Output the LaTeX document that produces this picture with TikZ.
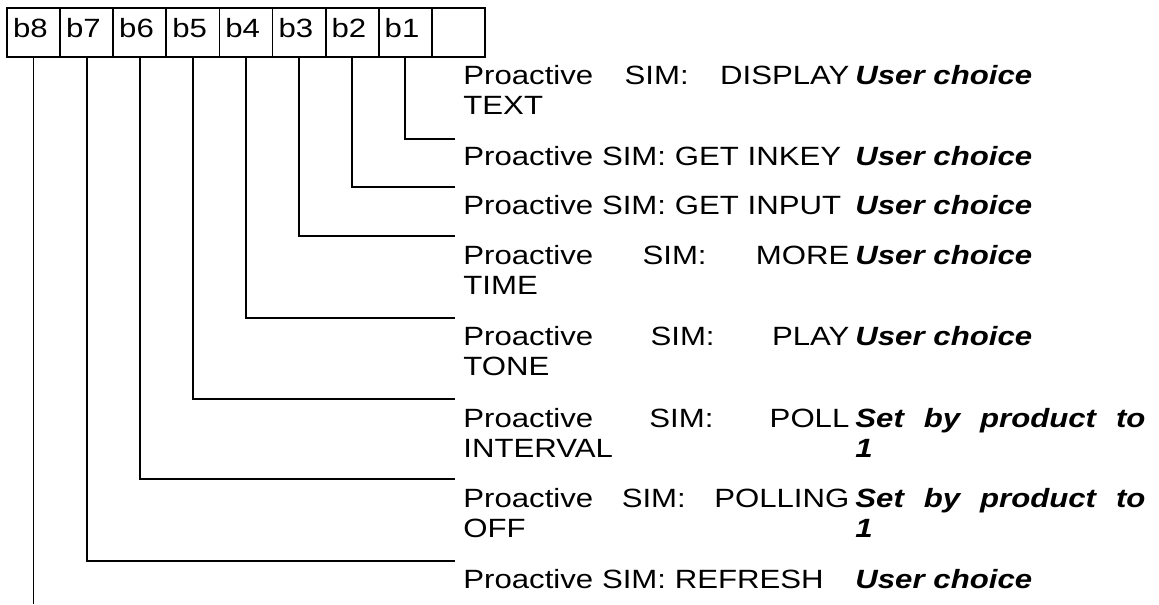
\documentclass[tikz,border=0pt]{standalone}
\usepackage{fontspec}
\setmainfont{Liberation Sans}[FakeStretch=1.18]
\usepackage{tikz}
\tikzset{
  bitcell/.style={draw, line width=0.9pt, minimum width=26.55pt, minimum height=24.5pt,
    inner xsep=3pt, inner ysep=0pt, outer sep=0pt, text width=20.55pt, align=left,
    text height=9.5pt, text depth=4pt},
  desc/.style={anchor=base west, inner sep=0pt, text width=193pt, align=left},
  choice/.style={anchor=base west, inner sep=0pt, text width=145pt, align=left,
    font=\fontsize{13.2}{15}\selectfont\bfseries\itshape},
  bitline/.style={line width=0.9pt},
}

\begin{document}
\begin{tikzpicture}[x=0.5pt, y=-0.5pt, every node/.style={font=\fontsize{13.2}{15}\selectfont}]
      \path[fill=white, use as bounding box] (0,0) rectangle (1159,604);

      % bit cells
      \node[bitcell] at (33.55,32.5) (c8) {b8};
      \node[bitcell] at (86.65,32.5) (c7) {b7};
      \node[bitcell] at (139.75,32.5) (c6) {b6};
      \node[bitcell] at (192.85,32.5) (c5) {b5};
      \node[bitcell] at (245.95,32.5) (c4) {b4};
      \node[bitcell] at (299.05,32.5) (c3) {b3};
      \node[bitcell] at (352.15,32.5) (c2) {b2};
      \node[bitcell] at (405.25,32.5) (c1) {b1};
      \node[bitcell] at (458.35,32.5) (c0) {};

      % descriptions
      \node[desc] at (463,85) (t1) {Proactive\hfill SIM:\hfill DISPLAY\\TEXT};
      \node[desc] at (463,166) (t2) {Proactive SIM: GET INKEY};
      \node[desc] at (463,214) (t3) {Proactive SIM: GET INPUT};
      \node[desc] at (463,264) (t4) {Proactive\hfill SIM:\hfill MORE\\TIME};
      \node[desc] at (463,345) (t5) {Proactive\hfill SIM:\hfill PLAY\\TONE};
      \node[desc] at (463,427) (t6) {Proactive\hfill SIM:\hfill POLL\\INTERVAL};
      \node[desc] at (463,507) (t7) {Proactive\hfill SIM:\hfill POLLING\\OFF};
      \node[desc] at (463,588) (t8) {Proactive SIM: REFRESH};

      % values
      \node[choice] at (855,85) (v1) {User choice};
      \node[choice] at (855,166) (v2) {User choice};
      \node[choice] at (855,214) (v3) {User choice};
      \node[choice] at (855,264) (v4) {User choice};
      \node[choice] at (855,345) (v5) {User choice};
      \node[choice] at (855,427) (v6) {Set\hfill by\hfill product\hfill to\\1};
      \node[choice] at (855,507) (v7) {Set\hfill by\hfill product\hfill to\\1};
      \node[choice] at (855,588) (v8) {User choice};

      % line ends
      \coordinate (e1) at (455,139);
      \coordinate (e2) at (455,187);
      \coordinate (e3) at (455,236);
      \coordinate (e4) at (455,318);
      \coordinate (e5) at (455,399);
      \coordinate (e6) at (455,479);
      \coordinate (e7) at (455,561);
      \coordinate (e8) at (33.55,604);

      \draw[bitline] (c1.south) |- (e1);
      \draw[bitline] (c2.south) |- (e2);
      \draw[bitline] (c3.south) |- (e3);
      \draw[bitline] (c4.south) |- (e4);
      \draw[bitline] (c5.south) |- (e5);
      \draw[bitline] (c6.south) |- (e6);
      \draw[bitline] (c7.south) |- (e7);
      \draw[bitline] (c8.south) -- (e8);
\end{tikzpicture}
\end{document}
